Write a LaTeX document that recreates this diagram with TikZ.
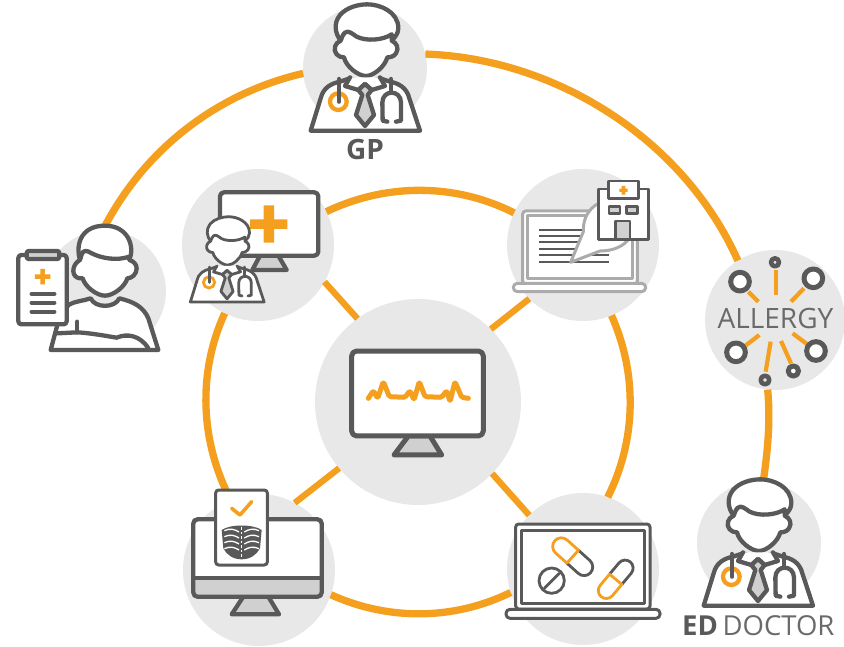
\documentclass[tikz,border=0pt]{standalone}
\usepackage{fontspec}
\setmainfont{Open Sans}
\definecolor{inkc}{HTML}{595959}
\definecolor{softc}{HTML}{ABABAB}
\definecolor{orangec}{HTML}{F49F1E}
\definecolor{discc}{HTML}{E8E8E8}
\definecolor{tonec}{HTML}{D0D0D0}
\definecolor{labelc}{HTML}{6A6A6A}
\tikzset{
  px/.style={x=1pt,y=-1pt},
  zoomed/.style={x=#1*0.33333pt,y=-#1*0.33333pt},
  disc/.style={circle,fill=discc,inner sep=0pt,outer sep=0pt,minimum size=#1*2pt},
  ring/.style={draw=orangec,line width=7.3pt,looseness=.9},
  spoke/.style={draw=orangec,line width=6.3pt},
  ink/.style={draw=inkc,line width=#1,line join=round,line cap=round},
  ink/.default=4.3pt,
  soft/.style={draw=softc,line width=3pt,line join=round},
  ray/.style={draw=orangec,line width=4.2pt},
  lbl/.style={text=inkc,inner sep=0pt,font=\bfseries\fontsize{28}{28}\selectfont},
}
% doctor, coordinates in thirds of a pixel
\newcommand{\drawDoctor}[4]{%
\begin{scope}[shift={(#1,#2)},zoomed=#3]
 \filldraw[ink=#4,fill=white] (62,392) -- (92,295) .. controls (100,262) and (125,250) .. (150,245) -- (180,235) -- (225,252) -- (270,235) -- (300,245) .. controls (325,250) and (350,262) .. (358,295) -- (390,392) -- cycle;
 \filldraw[ink=#4,fill=white] (152,122) .. controls (135,100) and (130,70) .. (150,45) .. controls (170,22) and (205,13) .. (232,13) .. controls (270,13) and (325,35) .. (325,85) .. controls (325,100) and (315,112) .. (305,122) -- cycle;
 \filldraw[ink=#4,fill=white] (152,122) .. controls (135,128) and (128,150) .. (140,163) .. controls (145,170) and (155,172) .. (162,172) .. controls (168,200) and (205,228) .. (228,228) .. controls (250,228) and (285,200) .. (292,172) .. controls (300,172) and (312,170) .. (318,160) .. controls (328,145) and (320,128) .. (305,122) -- (305,103) .. controls (280,120) and (230,125) .. (200,110) .. controls (185,100) and (175,90) .. (165,98) .. controls (158,103) and (155,115) .. (152,122) -- cycle;
 \filldraw[ink=#4,fill=white] (180,232) -- (165,258) -- (205,270) -- (225,252) -- (245,270) -- (285,258) -- (270,232);
 \filldraw[ink=#4,fill=tonec] (225,252) -- (205,270) -- (217,285) -- (198,345) -- (225,378) -- (252,345) -- (233,285) -- (245,270) -- cycle;
 \draw[draw=orangec,line width=#4] (145,305) circle[radius=25];
 \draw[ink=#4] (147,237) -- (147,305);
 \draw[ink=#4] (303,237) -- (303,278);
 \draw[ink=#4] (292,365) -- (278,362) -- (277,308) .. controls (277,268) and (333,268) .. (333,308) -- (333,362) -- (318,365);
\end{scope}}
% capsule, centred, half orange and half grey: x, y, angle, half length, half width
\newcommand{\drawPill}[5]{%
\begin{scope}[shift={(#1,#2)},rotate=#3,zoomed=1]
 \pgfmathsetmacro{\pillB}{#4-#5}
 \pgfmathsetmacro{\pillC}{#4-0.45*#5}
 \pgfmathsetmacro{\pillD}{0.55*#5}
 \draw[draw=inkc,line width=2.8pt] (0,-#5) -- (\pillB,-#5) .. controls (\pillC,-#5) and (#4,-\pillD) .. (#4,0) .. controls (#4,\pillD) and (\pillC,#5) .. (\pillB,#5) -- (0,#5);
 \draw[draw=orangec,line width=2.8pt,line join=round] (0,-#5) -- (-\pillB,-#5) .. controls (-\pillC,-#5) and (-#4,-\pillD) .. (-#4,0) .. controls (-#4,\pillD) and (-\pillC,#5) .. (-\pillB,#5) -- (0,#5) -- cycle;
\end{scope}}
\begin{document}
\begin{tikzpicture}[px]
\useasboundingbox (0,0) rectangle (844,647);
% discs
\node[disc=62]  (gp)      at (365,68)  {};
\node[disc=61]  (patient) at (105,291) {};
\node[disc=70]  (allergy) at (775,320) {};
\node[disc=62]  (ed)      at (759,543) {};
\node[disc=103] (hub)     at (418,402) {};
\node[disc=76]  (clinic)  at (258,245) {};
\node[disc=76]  (hospital) at (583,245) {};
\node[disc=76]  (xray)    at (259,570) {};
\node[disc=76]  (pills)   at (583,569) {};
% outer ring
\draw[ring] (patient.92) to[out=63,in=193] (gp.185);
\draw[ring] (gp.13) to[out=-2,in=114] (allergy.122);
\draw[ring] (allergy.-96) to[out=-85,in=82] (ed.86);
% inner ring
\draw[ring] (clinic.26.6) to[out=25.6,in=153.1] (hospital.155);
\draw[ring] (hospital.-68) to[out=-65.9,in=63.4] (pills.71);
\draw[ring] (pills.198) to[out=-154,in=-24.3] (xray.-19);
\draw[ring] (xray.112.5) to[out=117.5,in=245.4] (clinic.244.4);
% spokes
\draw[spoke] (hub.126) -- (clinic.-29);
\draw[spoke] (hub.45) -- (hospital.225);
\draw[spoke] (hub.220) -- (xray.62);
\draw[spoke] (hub.-44) -- (pills.135);

% GP and ED doctor
\drawDoctor{290}{0}{1}{4.3pt}
\drawDoctor{683}{475}{1}{4.3pt}
\node[lbl] (gplabel) at (365,150) {GP};
\node[lbl,anchor=west,font=\bfseries\fontsize{27.5}{28}\selectfont] (edlabel) at (682,626) {ED\,\mdseries\textcolor{labelc}{ DOCTOR}};

% patient
\begin{scope}[shift={(0,215)},zoomed=1]
 \filldraw[ink,fill=white] (205,270) .. controls (225,258) and (250,258) .. (272,250) .. controls (285,280) and (345,280) .. (358,250) .. controls (400,260) and (430,275) .. (445,310) -- (475,405) -- (152,405) -- (172,330) -- cycle;
 \draw[ink] (232,320) -- (232,352);
 \draw[ink] (172,355) -- (232,352) .. controls (280,355) and (330,365) .. (350,368) .. controls (380,355) and (420,360) .. (445,400);
 \filldraw[ink,fill=white] (240,135) .. controls (228,100) and (235,32) .. (315,32) .. controls (385,32) and (405,95) .. (388,135) -- cycle;
 \filldraw[ink,fill=white] (240,135) .. controls (220,145) and (212,175) .. (230,187) .. controls (235,190) and (240,190) .. (248,190) .. controls (255,215) and (290,242) .. (315,242) .. controls (340,242) and (375,215) .. (382,190) .. controls (395,190) and (410,178) .. (410,160) .. controls (410,148) and (400,138) .. (388,135) -- (388,125) .. controls (350,138) and (305,130) .. (275,115) .. controls (260,105) and (250,105) .. (245,118) -- cycle;
 \filldraw[ink,fill=white,rounded corners=3pt] (55,120) rectangle (200,328);
 \filldraw[ink,fill=tonec,rounded corners=2pt] (80,108) rectangle (178,132);
 \fill[orangec] (105,178) rectangle (151,192) (121,162) rectangle (135,208);
 \draw[ink] (95,237) -- (163,237) (95,263) -- (163,263) (95,290) -- (163,290);
\end{scope}

% clinic monitor
\begin{scope}[shift={(175,165)},zoomed=1]
 \filldraw[ink,fill=tonec] (255,272) -- (232,315) -- (335,315) -- (310,272) -- cycle;
 \filldraw[ink,fill=white,rounded corners=4pt] (135,82) rectangle (430,272);
 \fill[orangec] (225,163) rectangle (337,192) (266,121) rectangle (297,233);
\end{scope}
\drawDoctor{176.4}{213.8}{.675}{2.8pt}

% hospital laptop
\begin{scope}[shift={(500,165)},zoomed=1]
 \filldraw[soft,fill=white,rounded corners=3pt] (68,138) rectangle (412,357);
 \draw[soft] (82,152) rectangle (398,340);
 \filldraw[soft,fill=white,rounded corners=4pt] (40,355) rectangle (437,380);
 \foreach \y in {195,213,232,251,270,290} \draw[draw=inkc,line width=2.2pt] (118,\y) -- (328,\y);
 \filldraw[soft,fill=white] (212,292) -- (250,200) .. controls (248,140) and (290,108) .. (325,108) .. controls (370,108) and (400,145) .. (400,183) .. controls (400,225) and (360,258) .. (300,258) -- cycle;
 \filldraw[ink=2.8pt,fill=white] (295,72) rectangle (445,223);
 \filldraw[ink=2.8pt,fill=white] (325,48) rectangle (415,100);
 \fill[orangec] (358,71) rectangle (383,81) (365,63) rectangle (376,89);
 \filldraw[ink=2.8pt,fill=tonec] (327,125) rectangle (360,145);
 \filldraw[ink=2.8pt,fill=tonec] (380,125) rectangle (413,145);
 \filldraw[ink=2.8pt,fill=tonec] (347,168) rectangle (390,223);
\end{scope}

% hub monitor
\begin{scope}[shift={(340,340)},zoomed=1]
 \filldraw[ink=5pt,fill=tonec] (205,288) -- (162,345) -- (305,345) -- (270,288) -- cycle;
 \filldraw[ink=5pt,fill=white,rounded corners=5pt] (35,33) rectangle (430,288);
 \draw[draw=orangec,line width=5pt,line join=round,line cap=round,rounded corners=1.5pt] (85,175) -- (100,152) -- (113,175) -- (130,125) -- (148,170) -- (195,172) -- (210,152) -- (222,180) -- (238,125) -- (255,170) -- (305,172) -- (320,152) -- (330,185) -- (345,125) -- (365,172) -- (385,175);
\end{scope}

% x-ray monitor
\begin{scope}[shift={(175,480)},zoomed=1]
 \filldraw[ink,fill=tonec] (205,350) -- (170,403) -- (312,403) -- (280,350) -- cycle;
 \filldraw[ink=4.3pt,fill=tonec,rounded corners=4pt] (55,118) rectangle (440,350);
 \fill[white,rounded corners=3pt] (62,125) rectangle (433,295);
 \draw[ink=4.3pt] (55,295) -- (440,295);
 \filldraw[ink=3pt,fill=white,rounded corners=3pt] (122,30) rectangle (277,255);
 \draw[draw=orangec,line width=3.6pt,line cap=round,line join=round] (170,85) -- (195,105) -- (230,65);
 \fill[inkc] (140,150) .. controls (165,132) and (235,132) .. (260,150) -- (255,205) .. controls (245,225) and (225,238) .. (200,238) .. controls (175,238) and (155,225) .. (145,205) -- cycle;
 \foreach \y in {152,170,188,206} \draw[draw=white,line width=1.3pt] (148,\y) .. controls (165,\y-8) and (180,\y-4) .. (192,\y+4) (252,\y) .. controls (235,\y-8) and (220,\y-4) .. (208,\y+4);
 \draw[draw=white,line width=1.6pt,dash pattern=on 2.5pt off 2pt] (200,142) -- (200,234);
\end{scope}

% pills laptop
\begin{scope}[shift={(500,490)},zoomed=1]
 \filldraw[ink=3pt,fill=white,rounded corners=3pt] (47,102) rectangle (450,357);
 \draw[ink=3pt] (65,120) rectangle (433,340);
 \filldraw[ink=3pt,fill=white,rounded corners=4pt] (18,358) rectangle (480,385);
 \draw[ink=2.8pt] (155,272) circle[radius=38];
 \draw[ink=2.8pt] (133,295) -- (178,250);
\end{scope}
\drawPill{572.7}{556.7}{-42}{72}{26}
\drawPill{615.7}{579.3}{50}{68}{24}

% allergy
\begin{scope}[shift={(700,245)},zoomed=1]
 \draw[ray] (227,75) -- (227,150);
 \draw[ray] (145,140) -- (175,170);
 \draw[ray] (312,130) -- (273,170);
 \draw[ray] (135,303) -- (178,270);
 \draw[ray] (322,298) -- (278,265);
 \draw[ray] (273,355) -- (243,288);
 \draw[ray] (197,380) -- (212,290);
 \filldraw[ink=5pt,fill=white] (120,110) circle[radius=28];
 \filldraw[ink=5pt,fill=white] (340,100) circle[radius=28];
 \filldraw[ink=5pt,fill=white] (108,322) circle[radius=28];
 \filldraw[ink=5pt,fill=white] (348,318) circle[radius=28];
 \filldraw[ink=5pt,fill=white] (280,378) circle[radius=15.5];
 \filldraw[ink=4.6pt,fill=discc] (225,52) circle[radius=12];
 \filldraw[ink=4.6pt,fill=discc] (195,405) circle[radius=13];
\end{scope}
\node[text=labelc,inner sep=0pt,font=\fontsize{28}{28}\selectfont] (allergylabel) at (775.5,318) {ALLERGY};
\end{tikzpicture}
\end{document}
